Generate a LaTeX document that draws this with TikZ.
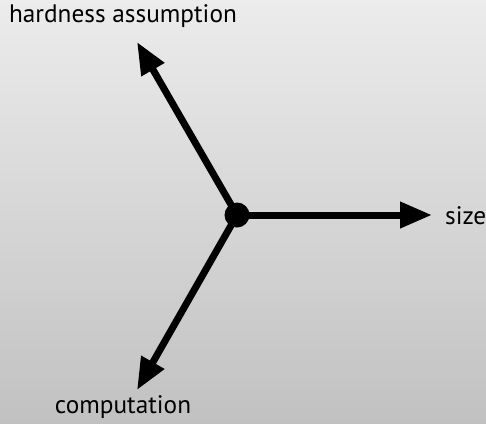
\documentclass[tikz,border=0pt]{standalone}
\usepackage{fontspec}
\setmainfont{PT Sans}
\usetikzlibrary{arrows.meta, positioning, calc}
\definecolor{bgtop}{RGB}{236,236,236}
\definecolor{bgbottom}{RGB}{193,193,193}

\begin{document}
\begin{tikzpicture}[
    x=0.02cm, y=-0.02cm,
    every node/.style={font=\fontsize{14.4}{17}\selectfont},
    hub/.style={
        circle,
        fill=black,
        inner sep=0pt,
        minimum size=0.5cm
    },
    axis/.style={
        -{Triangle[length=0.64cm, width=0.5cm]},
        line width=0.14cm,
        draw=black
    },
    lab/.style={
        text=black,
        inner sep=1pt
    }
]
\shade[top color=bgtop, bottom color=bgbottom] (0,0) rectangle (486,423);
\useasboundingbox (0,0) rectangle (486,423);
\node[hub] (origin) at (237,215) {};
\coordinate (hardtip) at (137,42);
\coordinate (sizetip) at (432,215);
\coordinate (comptip) at (137,390);
\node[lab] (hard) at (123,16) {hardness assumption};
\node[lab, anchor=west] (size) at (443,216) {size};
\node[lab] (comp) at (123,407) {computation};
\draw[axis] (origin.center) -- (hardtip);
\draw[axis] (origin.center) -- (sizetip);
\draw[axis] (origin.center) -- (comptip);
\end{tikzpicture}
\end{document}
